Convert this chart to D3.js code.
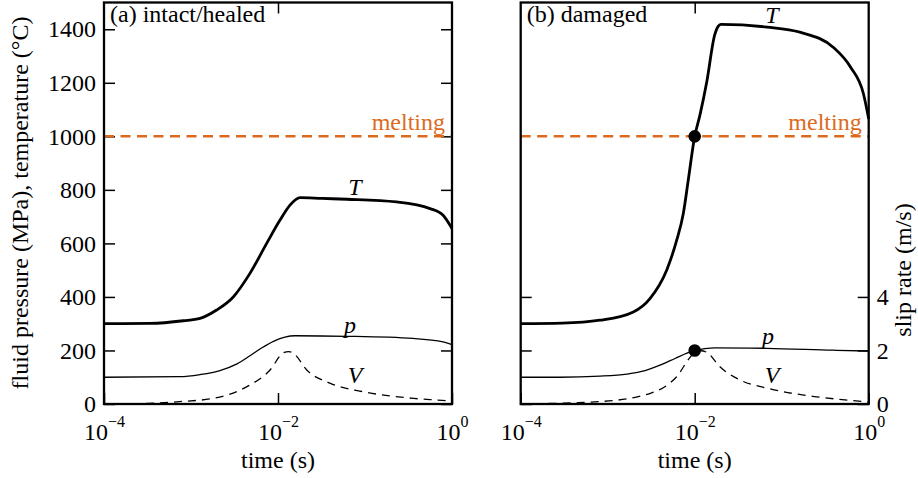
<!DOCTYPE html>
<html>
<head>
<meta charset="utf-8">
<script src="https://cdn.jsdelivr.net/npm/d3@7"></script>
</head>
<body style="margin:0">
<svg id="chart" width="918" height="478"></svg>
<script>
// ---------------- data ----------------
const panelLabels = ["(a) intact/healed", "(b) damaged"];
const xTickValues = [1e-4, 1e-2, 1];
const xTickExponents = ["\u22124", "\u22122", "0"];
const yTickValues = [0, 200, 400, 600, 800, 1000, 1200, 1400];
const vTickValues = [0, 2, 4];
const meltingT = 1000;

// (a) intact/healed
const timeA_T = [0.0001, 0.000338, 0.000817, 0.00127, 0.00197, 0.00306, 0.00476, 0.00741, 0.01055, 0.01374, 0.0179, 0.032, 0.062, 0.23, 0.56, 0.79, 1.0];
const tempA   = [300, 301, 311, 320, 351, 400, 488, 600, 687, 743, 771, 768, 765, 755, 730, 705, 655];
const timeA_p = [0.0001, 0.000748, 0.00127, 0.00215, 0.00338, 0.00476, 0.00655, 0.00899, 0.0120, 0.0157, 0.0621, 0.356, 0.789, 1.0];
const presA   = [100, 102, 110, 125, 150, 180, 210, 235, 250, 255, 253, 245, 232, 222];
const timeA_V = [0.0001, 0.00032, 0.00074, 0.0018, 0.0044, 0.0081, 0.0115, 0.0133, 0.0151, 0.0214, 0.040, 0.095, 0.36, 0.87, 1.0];
const slipA   = [0.0, 0.02, 0.09, 0.21, 0.65, 1.27, 1.91, 1.96, 1.89, 1.27, 0.77, 0.46, 0.21, 0.12, 0.10];

// (b) damaged
const timeB_T = [0.0001, 0.0003, 0.000815, 0.00197, 0.00306, 0.00476, 0.00621, 0.0074, 0.00843, 0.0100, 0.0115, 0.0137, 0.0170, 0.0185, 0.0200, 0.068, 0.162, 0.39, 0.62, 0.87, 1.0];
const tempB   = [300, 302, 313, 344, 394, 500, 612, 712, 836, 1000, 1080, 1200, 1380, 1410, 1418, 1408, 1389, 1333, 1258, 1159, 1065];
const timeB_p = [0.0001, 0.000283, 0.000815, 0.00167, 0.00269, 0.00399, 0.00594, 0.00815, 0.0100, 0.0131, 0.0171, 0.0678, 0.389, 1.0];
const presB   = [100, 100, 104, 112, 125, 145, 170, 190, 200, 207, 210, 208, 201, 198];
const timeB_V = [0.0001, 0.00081, 0.0031, 0.0062, 0.0095, 0.0117, 0.0138, 0.0195, 0.033, 0.068, 0.25, 0.87, 1.0];
const slipB   = [0.0, 0.09, 0.40, 1.02, 1.85, 1.99, 1.93, 1.39, 0.90, 0.59, 0.27, 0.09, 0.07];

// markers in panel (b)
const markTime = [0.01, 0.01];
const markVal  = [1000, 200];

// ---------------- layout ----------------
const svg = d3.select("#chart");
const W = 348, yTop = 2.5, yBottom = 404;
const panelX = [104, 520.7];
const orange = "#dc6a1e";
const FS = 24;

const x = d3.scaleLog().domain([1e-4, 1]).range([0, W]);
const y = d3.scaleLinear().domain([0, 1500]).range([yBottom, yTop]);
const yV = d3.scaleLinear().domain([0, 15]).range([yBottom, yTop]);

const panels = [
  {T: [timeA_T, tempA], p: [timeA_p, presA], V: [timeA_V, slipA], TLab: [355, 195], pLab: [350, 333], VLab: [355, 383]},
  {T: [timeB_T, tempB], p: [timeB_p, presB], V: [timeB_V, slipB], TLab: [772, 23], pLab: [768, 344], VLab: [772, 383]}
];

const serif = sel => sel.attr("font-family", "Liberation Serif").style("font-family", "'Liberation Serif'");
const addText = (parent) => parent.append("text").call(serif).attr("font-size", FS).attr("fill", "#000");

panels.forEach((P, i) => {
  const g = svg.append("g").attr("transform", `translate(${panelX[i]},0)`);

  const tickStyle = sel => {
    sel.call(serif).attr("font-size", FS);
    sel.select(".domain").remove();
    sel.selectAll(".tick line").attr("stroke", "#000").attr("stroke-width", 1.5);
    sel.selectAll(".tick text").call(serif).attr("font-size", FS).attr("fill", "#000");
  };

  if (i === 0) {
    g.append("g").call(d3.axisLeft(y).tickValues(yTickValues).tickSize(-11).tickPadding(8).tickFormat(d3.format("d"))).call(tickStyle);
    g.append("g").attr("transform", `translate(${W},0)`)
      .call(d3.axisRight(y).tickValues(yTickValues).tickSize(-11).tickFormat("")).call(tickStyle);
  } else {
    g.append("g").call(d3.axisLeft(yV).tickValues(vTickValues).tickSize(-11).tickFormat("")).call(tickStyle);
    g.append("g").attr("transform", `translate(${W},0)`)
      .call(d3.axisRight(yV).tickValues(vTickValues).tickSize(-11).tickPadding(8).tickFormat(d3.format("d"))).call(tickStyle);
  }

  const xb = g.append("g").attr("transform", `translate(0,${yBottom})`)
    .call(d3.axisBottom(x).tickValues(xTickValues).tickSize(-11).tickPadding(8)).call(tickStyle);
  xb.selectAll(".tick text").each(function(d, k) {
    const t = d3.select(this);
    t.text(null).attr("dy", null).attr("y", 36).attr("text-anchor", "middle");
    t.append("tspan").text("10");
    t.append("tspan").attr("dy", -13).attr("font-size", 16).text(xTickExponents[k]);
  });
  g.append("g").attr("transform", `translate(0,${yTop})`)
    .call(d3.axisTop(x).tickValues([1e-2]).tickSize(-11).tickFormat("")).call(tickStyle);

  // melting line
  g.append("line")
    .attr("x1", 0).attr("x2", W).attr("y1", y(meltingT)).attr("y2", y(meltingT))
    .attr("stroke", orange).attr("stroke-width", 2.5).attr("stroke-dasharray", "10,6.5");
  addText(g).attr("x", W - 7).attr("y", 130).attr("text-anchor", "end")
    .attr("fill", orange).text("melting");

  const line = (xs, ys, sy) => d3.line().curve(d3.curveMonotoneX)
    .x((d, k) => x(xs[k])).y((d, k) => sy(ys[k]))(ys);

  g.append("path").attr("d", line(P.V[0], P.V[1], yV))
    .attr("fill", "none").attr("stroke", "#000").attr("stroke-width", 1.3).attr("stroke-dasharray", "8,6");
  g.append("path").attr("d", line(P.p[0], P.p[1], y))
    .attr("fill", "none").attr("stroke", "#000").attr("stroke-width", 1.3);
  g.append("path").attr("d", line(P.T[0], P.T[1], y))
    .attr("fill", "none").attr("stroke", "#000").attr("stroke-width", 2.8);

  if (i === 1) {
    g.selectAll("circle.mark").data(markVal).enter().append("circle")
      .attr("cx", (d, k) => x(markTime[k])).attr("cy", d => y(d)).attr("r", 6.3).attr("fill", "#000");
  }

  g.append("rect").attr("x", 0).attr("y", yTop).attr("width", W).attr("height", yBottom - yTop)
    .attr("fill", "none").attr("stroke", "#000").attr("stroke-width", 2.3);

  addText(g).attr("x", 6).attr("y", 22).text(panelLabels[i]);

  const lab = (pos, txt) => addText(svg).attr("x", pos[0]).attr("y", pos[1])
    .attr("text-anchor", "middle").attr("font-style", "italic").text(txt);
  lab(P.TLab, "T"); lab(P.pLab, "p"); lab(P.VLab, "V");

  addText(g).attr("x", x(1e-2)).attr("y", 467.5).attr("text-anchor", "middle").text("time (s)");
});

addText(svg).attr("transform", "translate(28,203) rotate(-90)").attr("text-anchor", "middle")
  .text("fluid pressure (MPa), temperature (\u00B0C)");
addText(svg).attr("transform", "translate(911,270) rotate(-90)").attr("text-anchor", "middle")
  .text("slip rate (m/s)");
</script>
</body>
</html>
